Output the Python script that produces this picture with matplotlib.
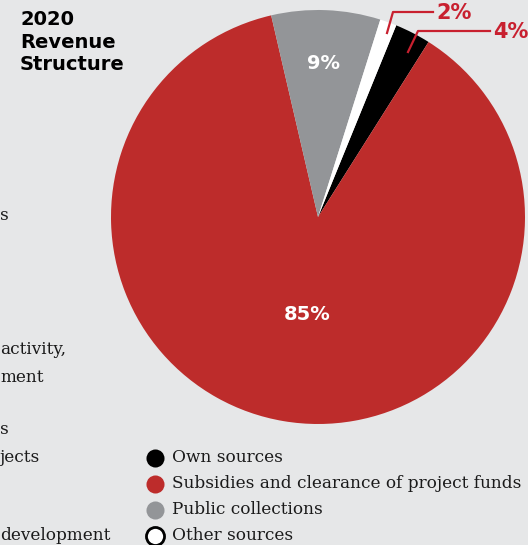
import matplotlib.pyplot as plt

# data
sources = ["Own sources", "Subsidies and clearance of project funds",
           "Public collections", "Other sources"]
shares = [2.8, 87.4, 8.5, 1.3]
share_labels = ["4%", "85%", "9%", "2%"]
colors = ["#000000", "#BD2C2B", "#939598", "#FFFFFF"]

# text fragments of the neighbouring panel, cut by the left edge
side_text = ["s", "activity,", "ment", "s", "jects", "development"]
side_y = [215, 350, 377, 430, 457, 535]

bg = "#E6E7E8"
label_red = "#C8202F"
W, H = 528, 545

fig = plt.figure(figsize=(W / 100, H / 100), dpi=100, facecolor=bg)

# pie axes placed in pixel terms: centre (318, 217), radius 207
cx, cy, r = 318, 217, 207
ax = fig.add_axes([(cx - r) / W, 1 - (cy + r) / H, 2 * r / W, 2 * r / H])
ax.set_facecolor(bg)
ax.pie(shares, colors=colors, startangle=67.8, counterclock=False,
       wedgeprops=dict(linewidth=0))
ax.set_xlim(-1, 1)
ax.set_ylim(-1, 1)
ax.set_aspect("equal")
ax.axis("off")


def px(x, y):
    # figure pixel (from top-left) -> figure fraction
    return x / W, 1 - y / H


# inside labels
fig.text(*px(323, 63), share_labels[2], color="white", fontsize=14,
         fontweight="bold", ha="center", va="center")
fig.text(*px(307, 315), share_labels[1], color="white", fontsize=14,
         fontweight="bold", ha="center", va="center")

# leader lines for the thin slices
for pts, lab, tx in [([(387, 33), (393, 12), (433, 12)], share_labels[3], 436),
                     ([(408, 52), (418, 31), (490, 31)], share_labels[0], 493)]:
    xs = [px(*p)[0] for p in pts]
    ys = [px(*p)[1] for p in pts]
    fig.add_artist(plt.Line2D(xs, ys, color=label_red, linewidth=1.6))
    fig.text(*px(tx, pts[-1][1] + 1), lab, color=label_red, fontsize=15,
             fontweight="bold", ha="left", va="center")

# title
fig.text(*px(20, 10), "2020\nRevenue\nStructure", fontsize=14,
         fontweight="bold", ha="left", va="top", linespacing=1.25)

# legend
for i, (name, col) in enumerate(zip(sources, colors)):
    y = 458 + i * 26
    fig.add_artist(plt.Line2D([px(155, y)[0]], [px(155, y)[1]], marker="o",
                              markersize=13, markerfacecolor=col,
                              markeredgecolor="black" if col == "#FFFFFF" else col,
                              markeredgewidth=2 if col == "#FFFFFF" else 0,
                              linestyle="none"))
    fig.text(*px(172, y), name, fontsize=12.2, family="DejaVu Serif",
             color="#1a1a1a", ha="left", va="center")

for s, y in zip(side_text, side_y):
    fig.text(*px(0, y), s, fontsize=12.2, family="DejaVu Serif",
             color="#1a1a1a", ha="left", va="center")

fig.savefig("out.png", dpi=100, facecolor=bg)
